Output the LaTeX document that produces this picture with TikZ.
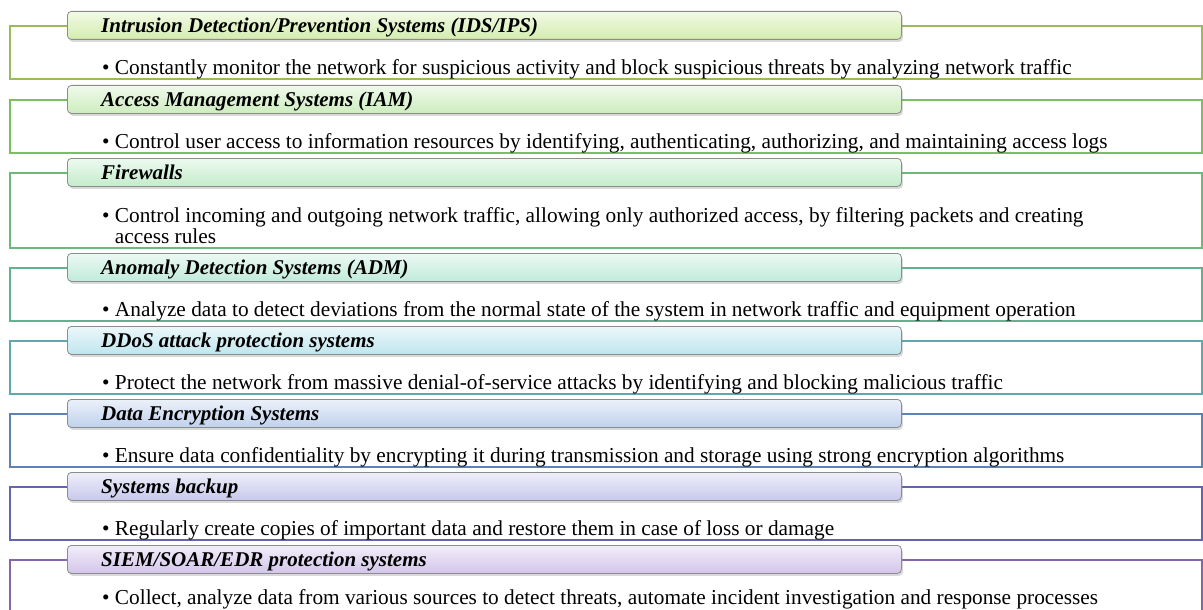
\documentclass[tikz,border=0pt]{standalone}
\usepackage{fontspec}
\setmainfont{Liberation Serif}
\usetikzlibrary{shadows}

\definecolor{idsline}{HTML}{9BBB59}  \definecolor{idsfill}{HTML}{D3EDAE}
\definecolor{iamline}{HTML}{7DBE62}  \definecolor{iamfill}{HTML}{CDEDBE}
\definecolor{fwline}{HTML}{6DB97A}   \definecolor{fwfill}{HTML}{C4ECCB}
\definecolor{admline}{HTML}{62B290}  \definecolor{admfill}{HTML}{C0EBDA}
\definecolor{ddosline}{HTML}{5EA8AE} \definecolor{ddosfill}{HTML}{BFE6EE}
\definecolor{encline}{HTML}{5C83B4}  \definecolor{encfill}{HTML}{BFD1EC}
\definecolor{bakline}{HTML}{6266AD}  \definecolor{bakfill}{HTML}{C7C8EC}
\definecolor{siemline}{HTML}{8467A8} \definecolor{siemfill}{HTML}{D3C5EA}

\tikzset{
  frame/.style={draw=#1, line width=1.8pt, anchor=north west, minimum width=1192pt, minimum height=53pt, inner sep=0pt},
  tab/.style={draw=black!45, line width=0.8pt, rounded corners=4pt, top color=#1!30!white, bottom color=#1,
    anchor=north west, minimum width=834pt, minimum height=28pt, inner sep=0pt,
    drop shadow={shadow xshift=1.5pt, shadow yshift=-2.5pt, opacity=0.3}},
  head/.style={anchor=base west, inner sep=0pt, font=\fontsize{21}{21}\selectfont\bfseries\itshape},
  note/.style={anchor=base west, inner sep=0pt, align=left, font=\fontsize{21.3}{21}\selectfont}
}

\begin{document}
\begin{tikzpicture}[x=1pt,y=-1pt]
  \useasboundingbox (0,0) rectangle (1203,610);

  % IDS/IPS
  \node[frame=idsline] (idsbox) at (9,25) {};
  \node[tab=idsfill] (idstab) at (67,11) {};
  \node[head] (idshead) at ([xshift=34pt,yshift=-7pt]idstab.west) {Intrusion Detection/Prevention Systems (IDS/IPS)};
  \node[note] (idsnote) at ([xshift=93pt,yshift=5pt]idsbox.south west) {• Constantly monitor the network for suspicious activity and block suspicious threats by analyzing network traffic};

  % IAM
  \node[frame=iamline] (iambox) at (9,99) {};
  \node[tab=iamfill] (iamtab) at (67,85) {};
  \node[head] (iamhead) at ([xshift=34pt,yshift=-7pt]iamtab.west) {Access Management Systems (IAM)};
  \node[note] (iamnote) at ([xshift=93pt,yshift=5pt]iambox.south west) {• Control user access to information resources by identifying, authenticating, authorizing, and maintaining access logs};

  % firewalls, two lines of text
  \node[frame=fwline, minimum height=75pt] (fwbox) at (9,172) {};
  \node[tab=fwfill] (fwtab) at (67,158) {};
  \node[head] (fwhead) at ([xshift=34pt,yshift=-7pt]fwtab.west) {Firewalls};
  \node[note] (fwnote) at ([xshift=93pt,yshift=5pt]fwbox.south west) {• Control incoming and outgoing network traffic, allowing only authorized access, by filtering packets and creating\\\phantom{• }access rules};

  % ADM
  \node[frame=admline] (admbox) at (9,267) {};
  \node[tab=admfill] (admtab) at (67,253) {};
  \node[head] (admhead) at ([xshift=34pt,yshift=-7pt]admtab.west) {Anomaly Detection Systems (ADM)};
  \node[note] (admnote) at ([xshift=93pt,yshift=5pt]admbox.south west) {• Analyze data to detect deviations from the normal state of the system in network traffic and equipment operation};

  % DDoS
  \node[frame=ddosline] (ddosbox) at (9,340) {};
  \node[tab=ddosfill] (ddostab) at (67,326) {};
  \node[head] (ddoshead) at ([xshift=34pt,yshift=-7pt]ddostab.west) {DDoS attack protection systems};
  \node[note] (ddosnote) at ([xshift=93pt,yshift=5pt]ddosbox.south west) {• Protect the network from massive denial-of-service attacks by identifying and blocking malicious traffic};

  % encryption
  \node[frame=encline] (encbox) at (9,413) {};
  \node[tab=encfill] (enctab) at (67,399) {};
  \node[head] (enchead) at ([xshift=34pt,yshift=-7pt]enctab.west) {Data Encryption Systems};
  \node[note] (encnote) at ([xshift=93pt,yshift=5pt]encbox.south west) {• Ensure data confidentiality by encrypting it during transmission and storage using strong encryption algorithms};

  % backup
  \node[frame=bakline] (bakbox) at (9,486) {};
  \node[tab=bakfill] (baktab) at (67,472) {};
  \node[head] (bakhead) at ([xshift=34pt,yshift=-7pt]baktab.west) {Systems backup};
  \node[note] (baknote) at ([xshift=93pt,yshift=5pt]bakbox.south west) {• Regularly create copies of important data and restore them in case of loss or damage};

  % SIEM/SOAR/EDR, box runs past the bottom edge
  \node[frame=siemline] (siembox) at (9,559) {};
  \node[tab=siemfill] (siemtab) at (67,545) {};
  \node[head] (siemhead) at ([xshift=34pt,yshift=-7pt]siemtab.west) {SIEM/SOAR/EDR protection systems};
  \node[note] (siemnote) at ([xshift=93pt,yshift=9pt]siembox.south west) {• Collect, analyze data from various sources to detect threats, automate incident investigation and response processes};
\end{tikzpicture}
\end{document}
